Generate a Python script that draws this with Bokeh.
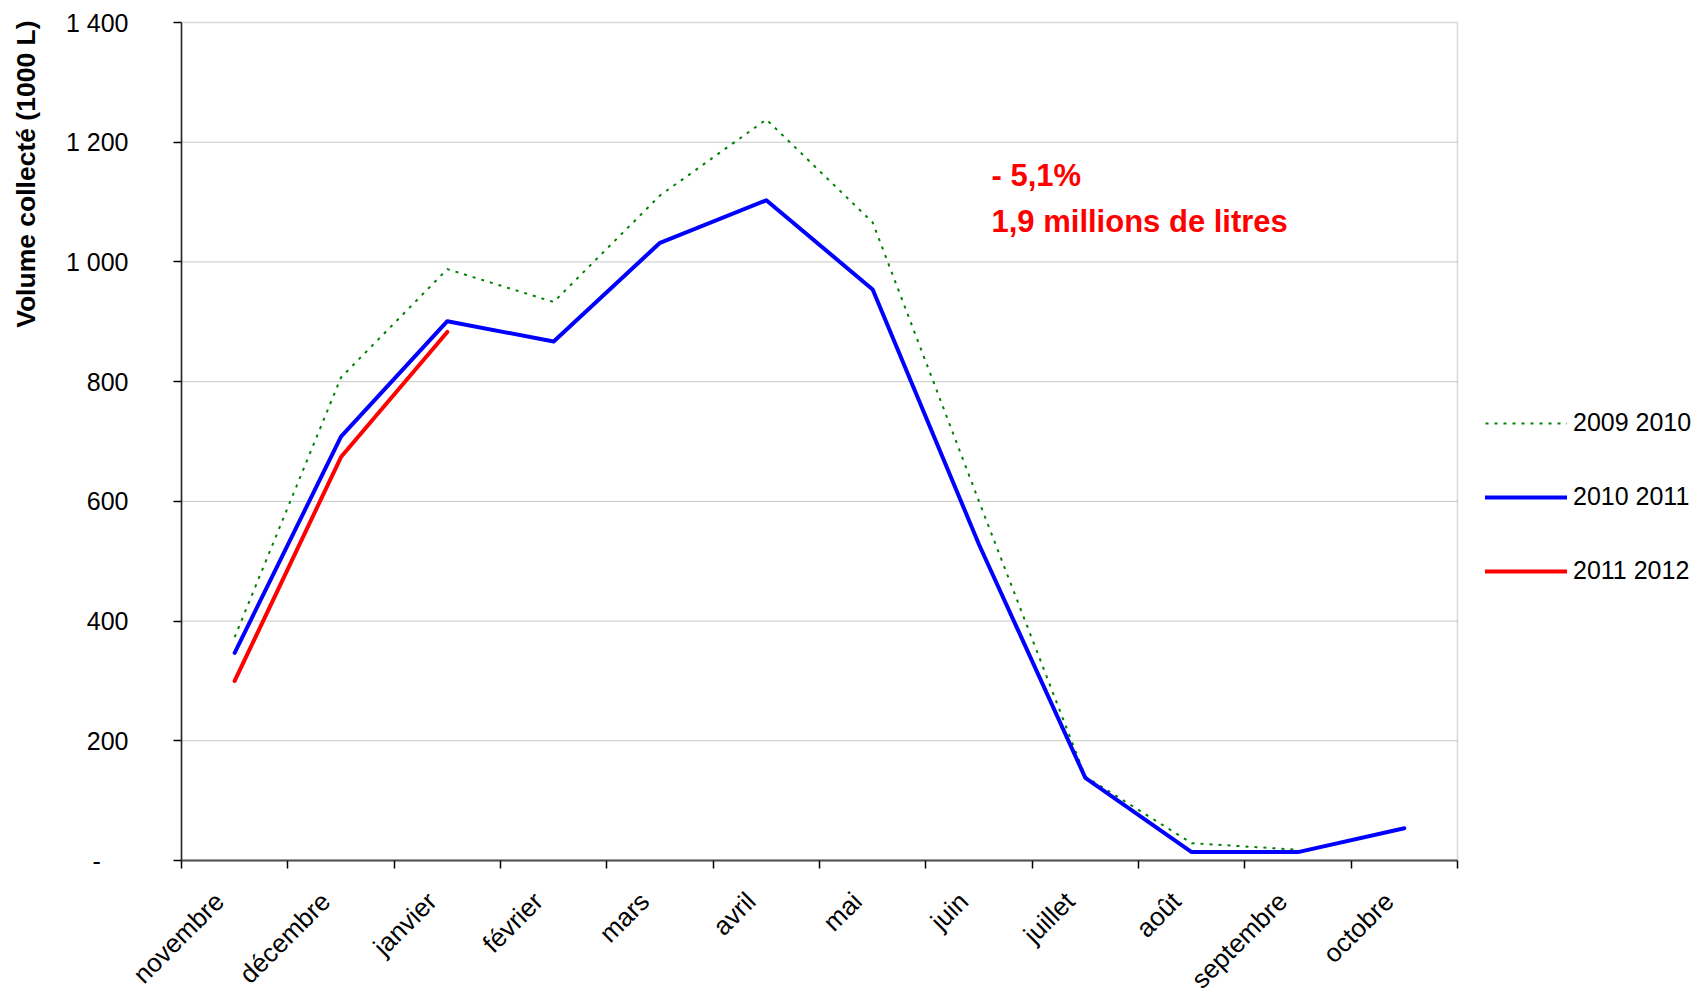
import math
from bokeh.plotting import figure
from bokeh.models import FixedTicker, Range1d, Legend, LegendItem, Label, BoxAnnotation
from bokeh.embed import file_html
from bokeh.resources import INLINE

months = ["novembre", "décembre", "janvier", "février", "mars", "avril",
          "mai", "juin", "juillet", "août", "septembre", "octobre"]
s_2009_2010 = [373, 807, 988, 933, 1111, 1238, 1066, 600, 140, 29, 18]
s_2010_2011 = [347, 708, 901, 867, 1032, 1103, 954, 528, 138, 14, 14, 54]
s_2011_2012 = [300, 674, 883]
series_names = ["2009 2010", "2010 2011", "2011 2012"]
y_ticks = [0, 200, 400, 600, 800, 1000, 1200, 1400]
y_tick_labels = ["-\u00a0\u00a0\u00a0\u00a0", "200", "400", "600", "800", "1 000", "1 200", "1 400"]
y_title = "Volume collecté (1000 L)"
note_lines = ["- 5,1%", "1,9 millions de litres"]
note_values = [1145, 1067]

FONT = "Liberation Sans"
# canvas and pixel box of the month area
W, H = 1695, 989
PX_L, PX_R, PX_T, PX_B = 181, 1457, 22, 860
n = len(months)
y_lo, y_hi = y_ticks[0], y_ticks[-1]
kx = (PX_R - PX_L) / n
ky = (PX_B - PX_T) / (y_hi - y_lo)

def px_x(px):
    return (px - PX_L) / kx

def px_y(py):
    return y_lo + (PX_B - py) / ky

p = figure(width=W, height=H,
           x_range=Range1d(px_x(0), px_x(W)), y_range=Range1d(px_y(H), px_y(0)),
           output_backend="svg", toolbar_location=None,
           min_border=0, min_border_left=0, min_border_right=0, min_border_top=0, min_border_bottom=0)
p.outline_line_color = None
p.xgrid.visible = False
p.ygrid.visible = False

# horizontal grid lines in the month area
grid_vals = y_ticks[1:-1]
p.segment(x0=[0] * len(grid_vals), x1=[n] * len(grid_vals), y0=grid_vals, y1=grid_vals,
          line_color="#c8c8c8", line_width=1)

def xs(k):
    return [i + 0.5 for i in range(k)]

g = p.line(xs(len(s_2009_2010)), s_2009_2010, line_color="#008000", line_width=2,
           line_dash="3 6")
b = p.line(xs(len(s_2010_2011)), s_2010_2011, line_color="#0000ff", line_width=4,
           line_cap="round", line_join="round")
r = p.line(xs(len(s_2011_2012)), s_2011_2012, line_color="#ff0000", line_width=4,
           line_cap="round", line_join="round")

# plot-area border
p.add_layout(BoxAnnotation(left=0, right=n, bottom=y_lo, top=y_hi,
                           fill_alpha=0, line_color="#808080", line_width=1.5))

# x axis
p.xaxis.fixed_location = y_lo
p.xaxis.bounds = (0, n)
p.xaxis.ticker = FixedTicker(ticks=xs(n), minor_ticks=list(range(n + 1)))
p.xaxis.major_label_overrides = {i + 0.5: m + "\u00a0\u00a0\u00a0" for i, m in enumerate(months)}
p.xaxis.major_tick_out = 0
p.xaxis.major_tick_in = 0
p.xaxis.minor_tick_out = 8
p.xaxis.minor_tick_in = 0
p.xaxis.minor_tick_line_color = "#000000"
p.xaxis.minor_tick_line_width = 1.5
p.xaxis.axis_line_color = "#404040"
p.xaxis.axis_line_width = 2
p.xaxis.major_label_orientation = math.pi / 4
p.xaxis.major_label_standoff = 13
p.xaxis.major_label_text_font = FONT
p.xaxis.major_label_text_font_size = "26px"
p.xaxis.major_label_text_color = "#000000"

# y axis
p.yaxis.fixed_location = 0
p.yaxis.bounds = (y_lo, y_hi)
p.yaxis.ticker = FixedTicker(ticks=y_ticks, minor_ticks=[])
p.yaxis.major_label_overrides = {t: l for t, l in zip(y_ticks, y_tick_labels)}
p.yaxis.major_tick_out = 8
p.yaxis.major_tick_in = 0
p.yaxis.major_tick_line_color = "#000000"
p.yaxis.major_tick_line_width = 1.5
p.yaxis.minor_tick_out = 0
p.yaxis.minor_tick_in = 0
p.yaxis.axis_line_color = "#000000"
p.yaxis.axis_line_width = 1.5
p.yaxis.major_label_standoff = 45
p.yaxis.major_label_text_font = FONT
p.yaxis.major_label_text_font_size = "25px"
p.yaxis.major_label_text_color = "#000000"

# y title
p.add_layout(Label(x=px_x(25), y=px_y(20), text=y_title, angle=math.pi / 2,
                   text_align="right", text_baseline="middle", text_font=FONT,
                   text_font_size="26.5px", text_font_style="bold", text_color="#000000"))

for txt, yv in zip(note_lines, note_values):
    p.add_layout(Label(x=px_x(991), y=yv, text=txt, text_color="#ff0000", text_font=FONT,
                       text_font_size="31px", text_font_style="bold",
                       text_baseline="alphabetic", text_align="left"))

legend = Legend(items=[LegendItem(label=nm, renderers=[rr]) for nm, rr in zip(series_names, [g, b, r])],
                location=(1485, H - 585), glyph_width=82, glyph_height=28, label_height=28,
                spacing=45, label_standoff=6, padding=0, margin=0,
                border_line_color=None, background_fill_alpha=0,
                label_text_font=FONT, label_text_font_size="25px", label_text_color="#000000")
p.add_layout(legend)

open("out.html", "w").write(file_html(p, INLINE))
